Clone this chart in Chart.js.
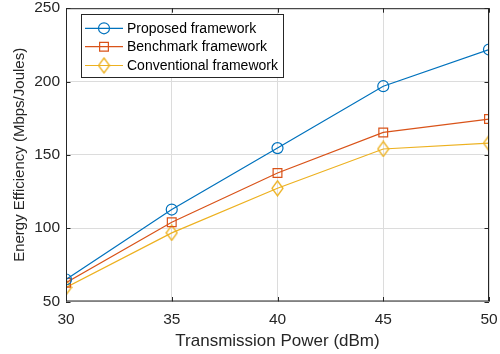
<!DOCTYPE html>
<html>
<head>
<meta charset="utf-8">
<script src="https://cdn.jsdelivr.net/npm/chart.js@4"></script>
<style>
html,body{margin:0;padding:0;background:#fff;}
#wrap{width:500px;height:354px;position:relative;}
</style>
</head>
<body>
<div id="wrap"><canvas id="c" width="500" height="354"></canvas></div>
<script>
const xValues = [30, 35, 40, 45, 50];
const proposed = [65.0, 112.7, 154.6, 196.8, 221.8];
const benchmark = [62.8, 104.1, 137.6, 165.3, 174.4];
const conventional = [59.6, 96.8, 127.2, 154.0, 158.0];
const seriesLabels = ['Proposed framework', 'Benchmark framework', 'Conventional framework'];
const xTicks = [30, 35, 40, 45, 50];
const yTicks = [50, 100, 150, 200, 250];

const BLUE = '#0072BD', ORANGE = '#D95319', YELLOW = '#EDB120', AX = '#262626';

function diamondCanvas(color) {
  const w = 13, h = 17, c = document.createElement('canvas');
  c.width = w; c.height = h;
  const g = c.getContext('2d');
  g.strokeStyle = color; g.lineWidth = 1.3;
  g.beginPath();
  g.moveTo(w / 2, 1); g.lineTo(w - 1, h / 2); g.lineTo(w / 2, h - 1); g.lineTo(1, h / 2); g.closePath();
  g.stroke();
  return c;
}
const diamond = diamondCanvas(YELLOW);

function pts(arr) { return xValues.map((x, i) => ({x: x, y: arr[i]})); }

const datasets = [
  {label: seriesLabels[0], data: pts(proposed), borderColor: BLUE, pointStyle: 'circle', pointRadius: 5.5},
  {label: seriesLabels[1], data: pts(benchmark), borderColor: ORANGE, pointStyle: 'rect', pointRadius: 6.2},
  {label: seriesLabels[2], data: pts(conventional), borderColor: YELLOW, pointStyle: diamond, pointRadius: 7}
];
datasets.forEach(d => {
  d.borderWidth = 1.2; d.tension = 0; d.pointBorderWidth = 1.2;
  d.backgroundColor = 'rgba(0,0,0,0)';
  d.pointBorderColor = d.borderColor; d.pointBackgroundColor = 'rgba(0,0,0,0)';
});

const boxPlugin = {
  id: 'matlabBox',
  afterDatasetsDraw(chart) {
    const ctx = chart.ctx, a = chart.chartArea;
    const xs = chart.scales.x, ys = chart.scales.y;
    ctx.save();
    ctx.strokeStyle = AX; ctx.lineWidth = 1;
    ctx.strokeRect(a.left + 0.5, a.top + 0.5, a.right - a.left - 1, a.bottom - a.top - 1);
    const tl = 4.5;
    ctx.beginPath();
    xTicks.forEach(v => {
      const px = Math.round(xs.getPixelForValue(v)) + 0.5;
      ctx.moveTo(px, a.bottom); ctx.lineTo(px, a.bottom - tl);
      ctx.moveTo(px, a.top); ctx.lineTo(px, a.top + tl);
    });
    yTicks.forEach(v => {
      const py = Math.round(ys.getPixelForValue(v)) + 0.5;
      ctx.moveTo(a.left, py); ctx.lineTo(a.left + tl, py);
      ctx.moveTo(a.right, py); ctx.lineTo(a.right - tl, py);
    });
    ctx.stroke();
    // legend
    const lx = 81, ly = 14, lw = 202, lh = 63;
    ctx.fillStyle = '#fff';
    ctx.fillRect(lx, ly, lw, lh);
    ctx.strokeStyle = AX; ctx.lineWidth = 1;
    ctx.strokeRect(lx + 0.5, ly + 0.5, lw, lh);
    const rows = [28.3, 46.7, 65.5];
    ctx.font = '14px "Liberation Sans", Arial, sans-serif';
    ctx.textBaseline = 'middle';
    chart.data.datasets.forEach((d, i) => {
      const y = rows[i];
      ctx.strokeStyle = d.borderColor; ctx.lineWidth = 1.2;
      ctx.beginPath(); ctx.moveTo(85, y); ctx.lineTo(123, y); ctx.stroke();
      ctx.fillStyle = 'rgba(0,0,0,0)';
      Chart.helpers.drawPoint(ctx, {pointStyle: d.pointStyle, radius: d.pointRadius, borderWidth: 1.2, rotation: 0}, 104, y);
      ctx.fillStyle = '#000';
      ctx.fillText(d.label, 127, y + 0.5);
    });
    ctx.restore();
  }
};

new Chart(document.getElementById('c'), {
  type: 'line',
  data: {datasets: datasets},
  plugins: [boxPlugin],
  options: {
    responsive: false,
    animation: false,
    layout: {padding: {top: 7.5, right: 11, left: 0, bottom: 0}},
    plugins: {legend: {display: false}, tooltip: {enabled: false}},
    scales: {
      x: {
        type: 'linear', min: 30, max: 50,
        afterBuildTicks: s => { s.ticks = xTicks.map(v => ({value: v})); },
        afterFit: s => { s.height = 52.5; s.paddingLeft = 0; s.paddingRight = 0; },
        grid: {color: '#dcdcdc', lineWidth: 1, drawTicks: false},
        border: {display: false},
        ticks: {color: AX, font: {family: '"Liberation Sans", Arial, sans-serif', size: 15.5}, padding: 8.5, maxRotation: 0},
        title: {display: true, text: 'Transmission Power (dBm)', color: AX, font: {family: '"Liberation Sans", Arial, sans-serif', size: 17}, padding: {top: 0, bottom: 2.5}}
      },
      y: {
        type: 'linear', min: 50, max: 250,
        afterBuildTicks: s => { s.ticks = yTicks.map(v => ({value: v})); },
        afterFit: s => { s.width = 66; s.paddingTop = 0; s.paddingBottom = 0; },
        grid: {color: '#dcdcdc', lineWidth: 1, drawTicks: false},
        border: {display: false},
        ticks: {color: AX, font: {family: '"Liberation Sans", Arial, sans-serif', size: 15.5}, padding: 6},
        title: {display: true, text: 'Energy Efficiency (Mbps/Joules)', color: AX, font: {family: '"Liberation Sans", Arial, sans-serif', size: 15}, padding: {top: 11, bottom: 0}}
      }
    }
  }
});
</script>
</body>
</html>
